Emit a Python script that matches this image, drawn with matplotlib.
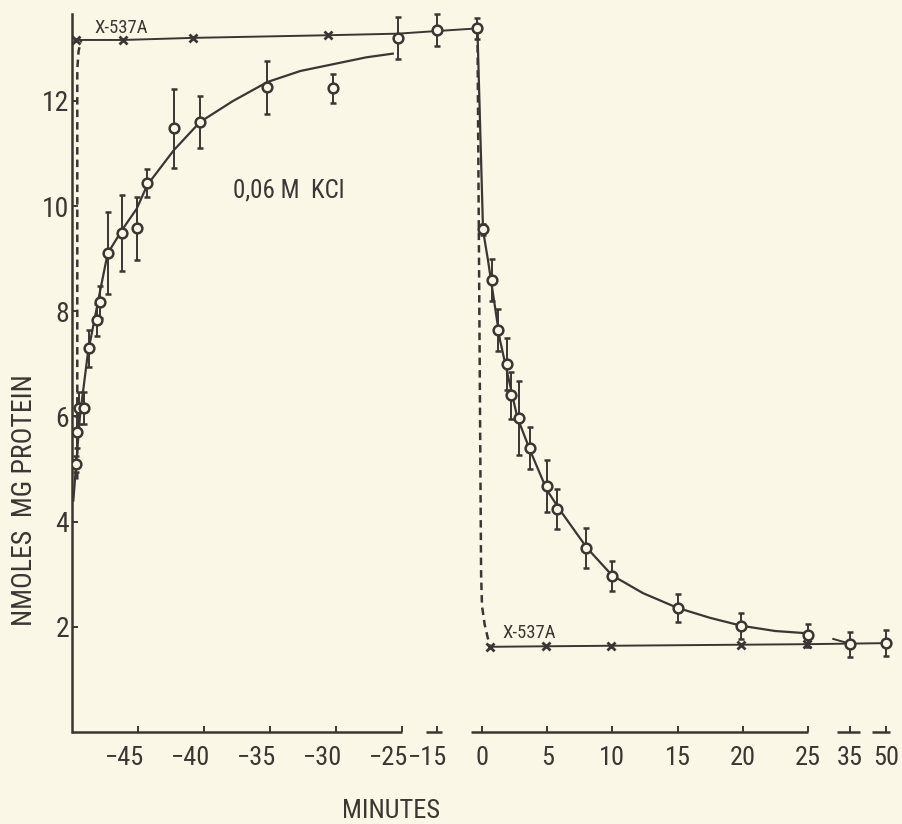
import numpy as np
import matplotlib
matplotlib.use('Agg')
import matplotlib.pyplot as plt
from matplotlib.transforms import ScaledTranslation
from matplotlib import font_manager

BG = '#faf7e7'
INK = '#3b3631'

# a narrow sans face is closest to the lettering; fall back if missing
names = {f.name for f in font_manager.fontManager.ttflist}
narrow = [n for n in ['Liberation Sans Narrow', 'Roboto Condensed', 'Open Sans Condensed',
                      'DejaVu Sans Condensed'] if n in names]
plt.rcParams['font.family'] = narrow + ['DejaVu Sans']
plt.rcParams['font.stretch'] = 'condensed'

# ---- data (minutes, nmoles / mg protein) ----
# uptake in 0.06 M KCl
up_t = [-49.7, -49.6, -49.5, -49.1, -48.7, -48.1, -47.9, -47.3, -46.2, -45.1,
        -44.3, -42.3, -40.3, -35.2, -30.2, -25.3, -15.0, -1.5]
up_y = [5.1, 5.7, 6.16, 6.16, 7.3, 7.83, 8.18, 9.1, 9.49, 9.58,
        10.44, 11.48, 11.6, 12.26, 12.24, 13.2, 13.35, 13.38]
up_err = [0.15, 0.3, 0.3, 0.3, 0.35, 0.3, 0.3, 0.78, 0.73, 0.6,
          0.27, 0.75, 0.5, 0.5, 0.27, 0.4, 0.3, 0.2]

# release after the change of medium
rel_t = [0.1, 0.8, 1.2, 1.9, 2.2, 2.8, 3.7, 5.0, 5.75, 8.0, 10.0, 15.0, 19.9, 25.0, 35.0, 50.0]
rel_y = [9.56, 8.6, 7.64, 7.0, 6.4, 5.97, 5.4, 4.68, 4.24, 3.5, 2.97, 2.36, 2.02, 1.84, 1.67, 1.69]
rel_err = [0.1, 0.4, 0.4, 0.5, 0.45, 0.7, 0.4, 0.5, 0.38, 0.38, 0.28, 0.27, 0.25, 0.22, 0.24, 0.25]

# drawn curves
fit_up_t = [-49.9, -49.4, -48.8, -47.9, -47.3, -46.2, -45.1, -44.3, -42.3, -40.3,
            -37.8, -35.2, -32.7, -30.2, -27.7, -25.7]
fit_up_y = [4.4, 6.0, 7.2, 8.35, 9.1, 9.55, 9.95, 10.4, 11.06, 11.6,
            12.0, 12.36, 12.57, 12.7, 12.83, 12.9]
fit_dn_t = [-1.5, 0.08, 0.46, 1.38, 2.7, 3.68, 4.98, 5.98, 8.05, 9.97,
            12.35, 15.0, 17.5, 19.9, 22.5, 24.8]
fit_dn_y = [13.31, 9.54, 8.97, 7.45, 5.99, 5.36, 4.6, 4.22, 3.5, 2.98,
            2.64, 2.36, 2.17, 2.02, 1.92, 1.88]
tail_t = [31.0, 34.5]
tail_y = [1.77, 1.69]

# X-537A
x537_top_t = [-49.7, -46.1, -40.8, -30.6]
x537_top_y = [13.16, 13.16, 13.2, 13.25]
top_line_t = [-49.7, -46.1, -40.8, -30.6, -25.3, -15.0, -1.5]
top_line_y = [13.16, 13.16, 13.2, 13.25, 13.28, 13.33, 13.38]
x537_bot_t = [0.6, 4.9, 9.9, 19.9, 24.9]
x537_bot_y = [1.62, 1.63, 1.64, 1.66, 1.67]
bot_line_t = [0.6, 4.9, 9.9, 19.9, 24.9, 50.0]
bot_line_y = [1.62, 1.63, 1.64, 1.66, 1.67, 1.69]

dash_l_t = [-49.6, -49.6, -49.5, -49.3]
dash_l_y = [4.8, 12.6, 12.95, 13.16]
dash_r_t = [-1.5, -0.3, 0.0, 0.2, 0.6]
dash_r_y = [13.3, 3.0, 2.4, 2.05, 1.62]

xticks = [-45, -40, -35, -30, -25, -15, 0, 5, 10, 15, 20, 25, 35, 50]
xtick_labels = ['\u221245', '\u221240', '\u221235', '\u221230', '\u221225', '\u221215',
                '0', '5', '10', '15', '20', '25', '35', '50']
yticks = [2, 4, 6, 8, 10, 12]
axis_pieces = [(-50, -25), (-18, -13.4), (-3.8, 25), (31.9, 39.2), (44.2, 51.7)]

# broken time axis (piecewise linear)
brk_min = [-50, -25, -15, 0, 25, 35, 50, 56]
brk_pos = [72, 402, 437, 482, 808, 850, 886, 900]


def fwd(x):
    return np.interp(x, brk_min, brk_pos)


def inv(p):
    return np.interp(p, brk_pos, brk_min)


fig = plt.figure(figsize=(9.03, 8.24), dpi=100, facecolor=BG)
ax = fig.add_axes([72 / 903, 92 / 824, 828 / 903, 732 / 824])
ax.set_facecolor(BG)
ax.set_xscale('function', functions=(fwd, inv))
ax.set_xlim(-50, 56)
ax.set_ylim(0, 13.92)

# curves
ax.plot(fit_up_t, fit_up_y, color=INK, lw=1.6)
ax.plot(fit_dn_t, fit_dn_y, color=INK, lw=1.6)
ax.plot(tail_t, tail_y, color=INK, lw=1.4)
ax.plot(top_line_t, top_line_y, color=INK, lw=1.4)
ax.plot(bot_line_t, bot_line_y, color=INK, lw=1.4)
ax.plot(dash_l_t, dash_l_y, color=INK, lw=1.8, ls=(0, (3, 2)))
ax.plot(dash_r_t, dash_r_y, color=INK, lw=1.8, ls=(0, (3, 2)))

# points
ax.errorbar(up_t, up_y, yerr=up_err, fmt='o', ms=7, mfc=BG, mec=INK, mew=1.8,
            ecolor=INK, elinewidth=1.4, capsize=2.5, capthick=1.4, zorder=4)
ax.errorbar(rel_t, rel_y, yerr=rel_err, fmt='o', ms=7, mfc=BG, mec=INK, mew=1.8,
            ecolor=INK, elinewidth=1.4, capsize=2.5, capthick=1.4, zorder=4)
ax.plot(x537_top_t, x537_top_y, 'x', color=INK, ms=6, mew=2, zorder=5)
ax.plot(x537_bot_t, x537_bot_y, 'x', color=INK, ms=6, mew=2, zorder=5)

# annotations
ax.text(-48.3, 13.3, 'X-537A', color=INK, fontsize=13.5)
ax.text(1.6, 1.79, 'X-537A', color=INK, fontsize=13.5)
ax.text(-37.8, 10.17, '0,06 M  KCl', color=INK, fontsize=18)

# axes
for s in ['top', 'right', 'bottom']:
    ax.spines[s].set_visible(False)
ax.spines['left'].set_bounds(0, 13.65)
ax.spines['left'].set_color(INK)
ax.spines['left'].set_linewidth(1.8)
for a, b in axis_pieces:
    ax.plot([a, b], [0, 0], color=INK, lw=1.8, clip_on=False, solid_capstyle='butt')

ax.set_yticks(yticks)
ax.set_yticklabels([str(v) for v in yticks])
ax.set_xticks(xticks)
ax.set_xticklabels([''] * len(xticks))
ax.minorticks_off()
ax.tick_params(axis='both', direction='in', length=4, width=1.4, color=INK,
               labelcolor=INK, labelsize=20)
ax.tick_params(axis='y', pad=2)

for t, lab in zip(xticks, xtick_labels):
    dx = -13 / 100 if t < 0 else 0
    if t == -15:
        dx = -9 / 100
    off = ScaledTranslation(dx, -14 / 100, fig.dpi_scale_trans)
    ax.text(t, 0, lab, transform=ax.get_xaxis_transform() + off,
            ha='center', va='top', fontsize=19, color=INK)

fig.text(25 / 903, 1 - 500 / 824, 'NMOLES  MG PROTEIN', rotation=90,
         ha='center', va='center', fontsize=20, color=INK)
fig.text(391 / 903, 1 - 818 / 824, 'MINUTES', ha='center', va='baseline',
         fontsize=19, color=INK)

fig.savefig('out.png', dpi=100, facecolor=BG)
